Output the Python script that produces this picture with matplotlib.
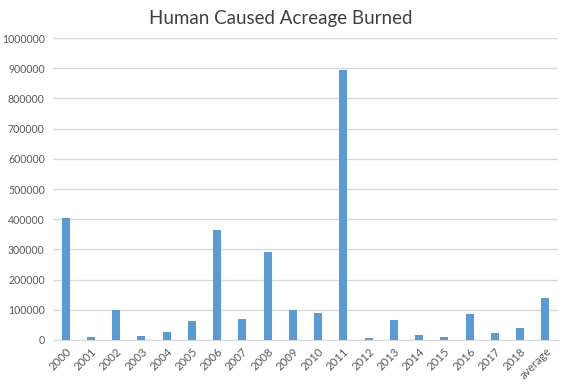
import numpy as np
import matplotlib
matplotlib.use('Agg')
import matplotlib.pyplot as plt

plt.rcParams['font.family'] = ['Lato', 'DejaVu Sans']

categories = ['2000', '2001', '2002', '2003', '2004', '2005', '2006', '2007', '2008', '2009',
              '2010', '2011', '2012', '2013', '2014', '2015', '2016', '2017', '2018', 'average']
acres = [405000, 11000, 100000, 13000, 26500, 63000, 365000, 71000, 290000, 100000,
         90000, 895000, 6600, 66000, 16600, 10000, 86000, 23000, 40000, 139500]

fig = plt.figure(figsize=(5.61, 3.89), dpi=100)
ax = fig.add_axes([0.0945, 0.126, 0.9, 0.776])

x = np.arange(len(categories))
ax.bar(x, acres, width=0.32, color='#5B9BD5', zorder=3)

ax.set_xlim(-0.5, len(categories) - 0.5)
ax.set_ylim(0, 1000000)
ax.set_yticks(np.arange(0, 1000001, 100000))
ax.set_yticklabels([str(v) for v in range(0, 1000001, 100000)], fontsize=7.6, color='#595959')
ax.set_xticks(x)
ax.set_xticklabels(categories, rotation=45, ha='right', rotation_mode='anchor',
                   fontsize=8.2, color='#595959')
ax.tick_params(axis='both', length=0)
ax.tick_params(axis='y', pad=6)
ax.tick_params(axis='x', pad=4)

ax.grid(axis='y', color='#D9D9D9', linewidth=1, zorder=0)
for s in ['top', 'right', 'left']:
    ax.spines[s].set_visible(False)
ax.spines['bottom'].set_color('#D9D9D9')

fig.text(0.5, 0.953, 'Human Caused Acreage Burned', ha='center', va='center',
         fontsize=13.5, color='#404040')

fig.savefig('out.png', dpi=100)
